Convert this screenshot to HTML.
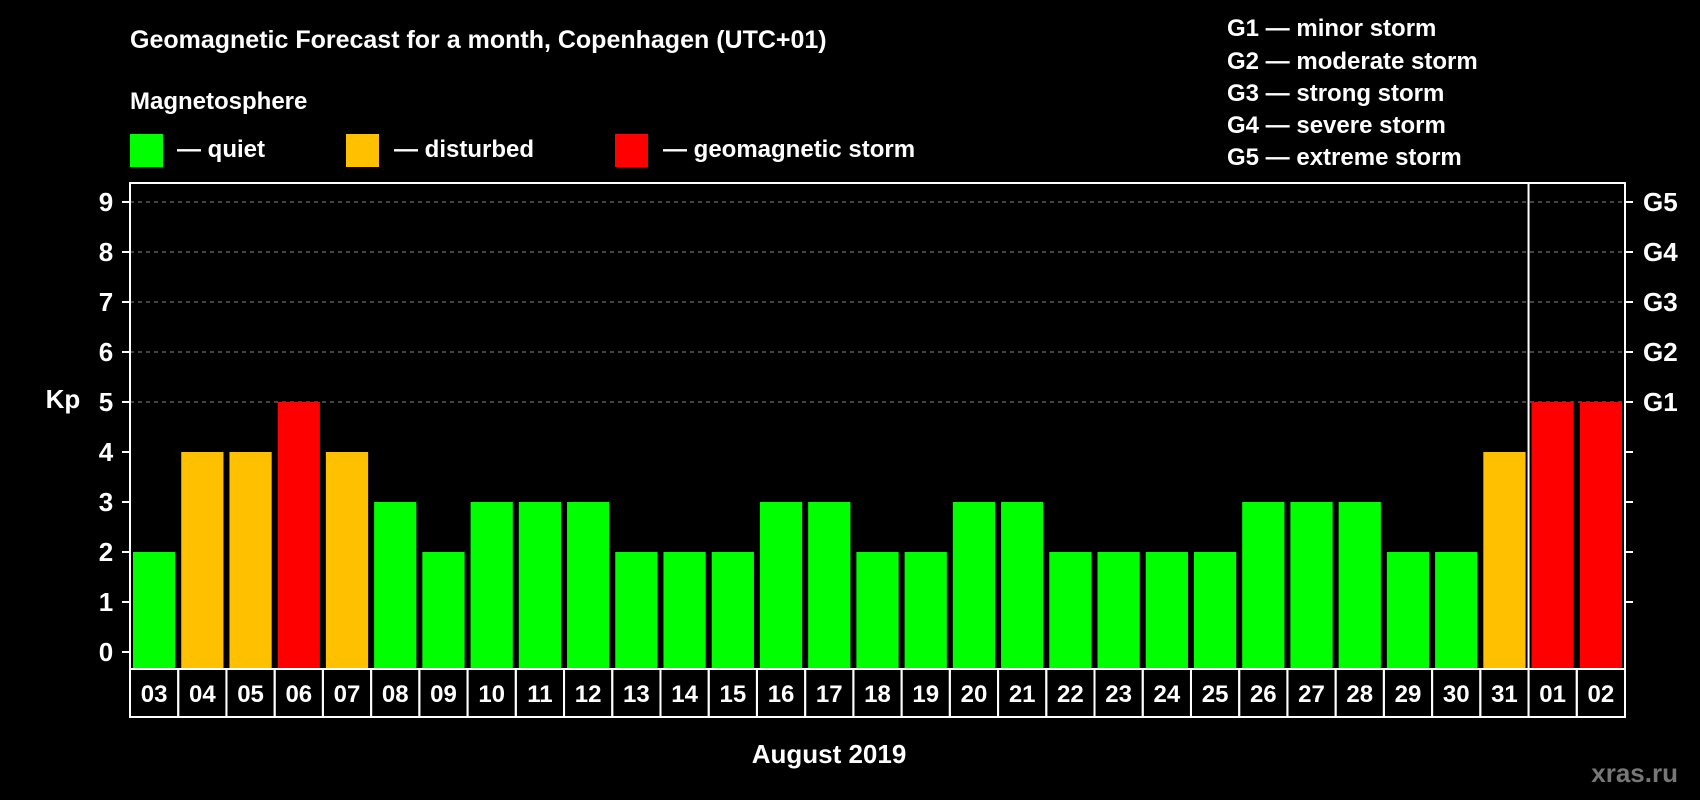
<!DOCTYPE html>
<html><head><meta charset="utf-8"><style>
html,body{margin:0;padding:0;background:#000;}
svg{display:block;font-family:"Liberation Sans",Arial,sans-serif;font-weight:bold;}
</style></head><body>
<svg id="chart" width="1700" height="800" viewBox="0 0 1700 800">
<rect x="0" y="0" width="1700" height="800" fill="#000"/>
<text x="130" y="48" fill="#fff" font-size="25">Geomagnetic Forecast for a month, Copenhagen (UTC+01)</text>
<text x="130" y="109" fill="#fff" font-size="24">Magnetosphere</text>
<rect x="130" y="134" width="33" height="33" fill="#00ff00"/>
<text x="177" y="157" fill="#fff" font-size="24">— quiet</text>
<rect x="346" y="134" width="33" height="33" fill="#ffc000"/>
<text x="394" y="157" fill="#fff" font-size="24">— disturbed</text>
<rect x="615" y="134" width="33" height="33" fill="#ff0000"/>
<text x="663" y="157" fill="#fff" font-size="24">— geomagnetic storm</text>
<g fill="#fff" font-size="24">
<text x="1227" y="36">G1 — minor storm</text>
<text x="1227" y="69">G2 — moderate storm</text>
<text x="1227" y="101">G3 — strong storm</text>
<text x="1227" y="133">G4 — severe storm</text>
<text x="1227" y="165">G5 — extreme storm</text>
</g>
<text x="63" y="408" fill="#fff" font-size="26" text-anchor="middle">Kp</text>
<text x="829" y="763" fill="#fff" font-size="26" text-anchor="middle">August 2019</text>
<text x="1678" y="782" fill="#777" font-size="26" text-anchor="end">xras.ru</text>
<g id="grid"></g><g id="bars"></g><g id="axes"></g>
</svg>
<script>
const days=["03","04","05","06","07","08","09","10","11","12","13","14","15","16","17","18","19","20","21","22","23","24","25","26","27","28","29","30","31","01","02"];
const kp=[2,4,4,5,4,3,2,3,3,3,2,2,2,3,3,2,2,3,3,2,2,2,2,3,3,3,2,2,4,5,5];
const yTicks=[0,1,2,3,4,5,6,7,8,9];
const gLabels=["G1","G2","G3","G4","G5"];
const gLevels=[5,6,7,8,9];
const NS="http://www.w3.org/2000/svg";
const L=130,R=1625,T=183,B=669,LB=717;
const cw=(R-L)/days.length;
const y=v=>652-v*50;
const x=i=>L+i*cw;
function mk(tag,attrs,parent){const e=document.createElementNS(NS,tag);for(const k in attrs)e.setAttribute(k,attrs[k]);document.getElementById(parent).appendChild(e);return e;}
yTicks.forEach(v=>{
 if(v>=5){const g=mk('line',{x1:L,x2:R,y1:y(v),y2:y(v),stroke:'#888','stroke-width':1,'stroke-dasharray':'4,4'},'grid');
 
 }
 const t=mk('line',{x1:L-8,x2:L,y1:y(v),y2:y(v),stroke:'#fff','stroke-width':2},'axes');
 
 
 const lb=mk('text',{x:106,y:y(v)+9,fill:'#fff','font-size':26,'text-anchor':'middle'},'axes');lb.textContent=v;
 
 
 if(v>0){const rt=mk('line',{x1:R,x2:R+8,y1:y(v),y2:y(v),stroke:'#fff','stroke-width':2},'axes');
 
 }
});
gLevels.forEach((v,i)=>{const t=mk('text',{x:1643,y:y(v)+9,fill:'#fff','font-size':26},'axes');t.textContent=gLabels[i];
 
 });
kp.forEach((v,i)=>{
 const c=v>=5?'#ff0000':(v>=4?'#ffc000':'#00ff00');
 const b=mk('rect',{x:x(i)+3,y:y(v),width:cw-6,height:B-y(v),fill:c},'bars');
 
 
 const d=mk('rect',{x:x(i),y:B,width:cw,height:LB-B,fill:'none',stroke:'#fff','stroke-width':2},'axes');
 
 
 const t=mk('text',{x:x(i)+cw/2,y:B+33,fill:'#fff','font-size':24,'text-anchor':'middle'},'axes');t.textContent=days[i];
 
 
});
const fr=mk('rect',{x:L,y:T,width:R-L,height:B-T,fill:'none',stroke:'#fff','stroke-width':2},'axes');


const sep=mk('line',{x1:x(29),x2:x(29),y1:T,y2:B,stroke:'#fff','stroke-width':2},'axes');


</script>
</body></html>
